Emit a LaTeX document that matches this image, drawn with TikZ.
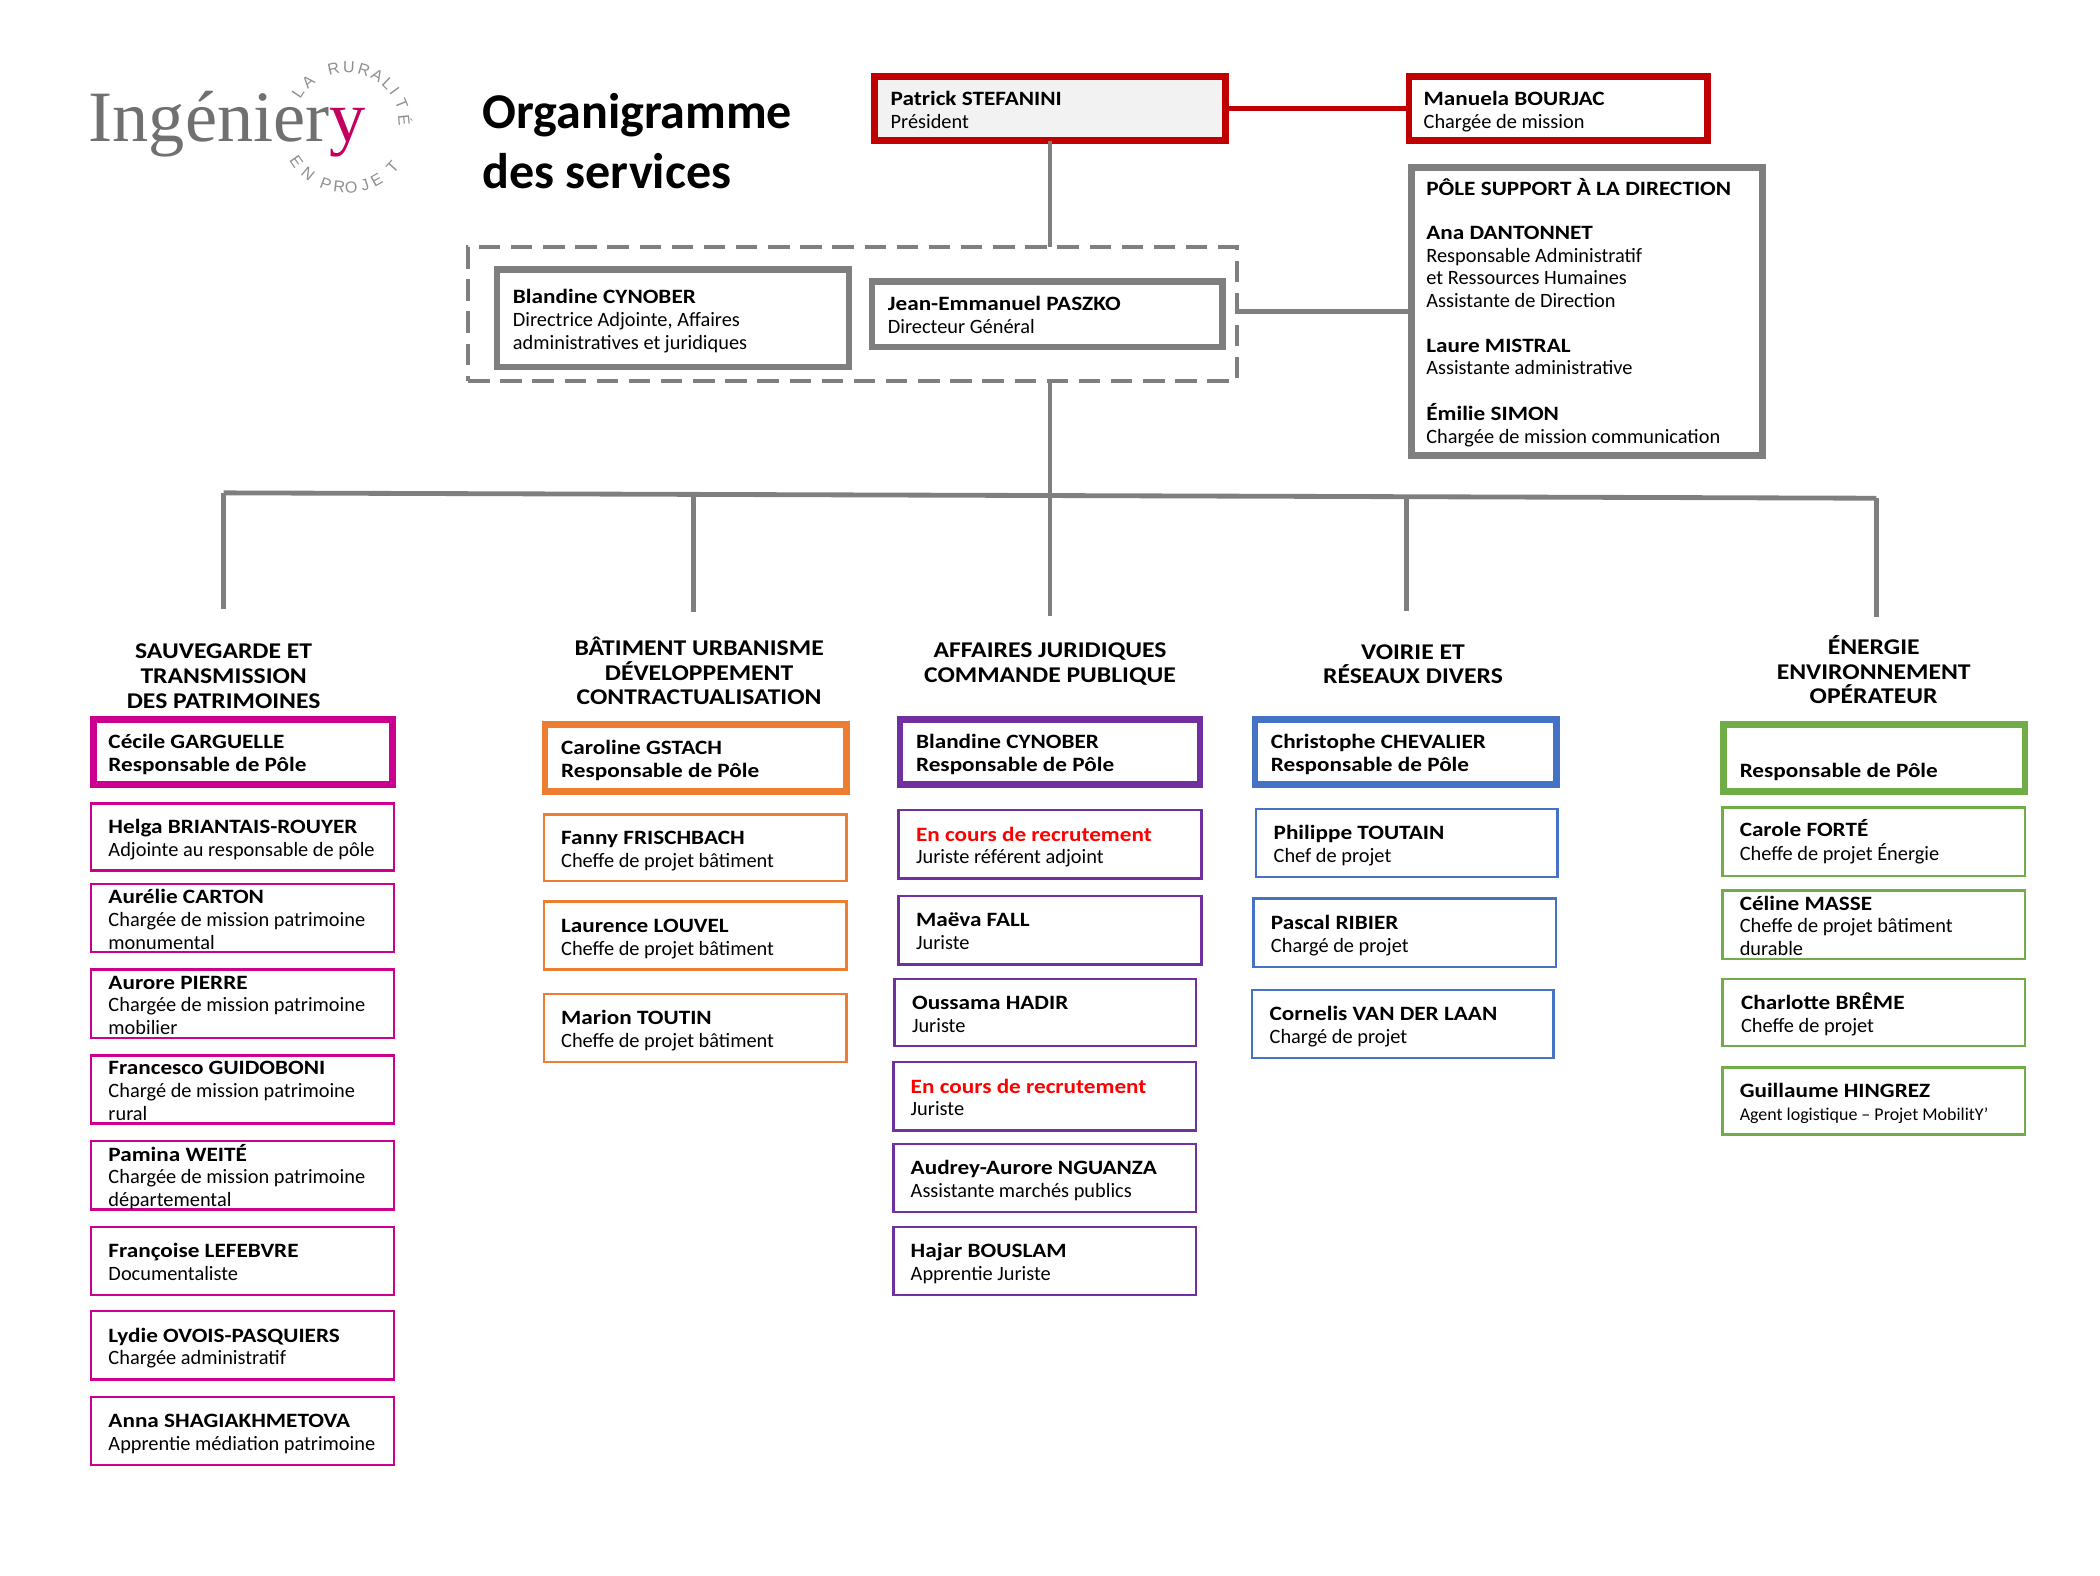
\documentclass[tikz,border=0pt]{standalone}
\usepackage{fontspec}
\setmainfont{Carlito}
\newfontfamily\nmfont[FakeStretch=1.14]{Carlito}
\newfontfamily\logoserif{Liberation Serif}
\newfontfamily\logosans{Liberation Sans}
\definecolor{cgray}{HTML}{7F7F7F}
\definecolor{cred}{HTML}{C00000}
\definecolor{cpink}{HTML}{CC008F}
\definecolor{corange}{HTML}{ED7D31}
\definecolor{cpurple}{HTML}{7030A0}
\definecolor{cblue}{HTML}{4472C4}
\definecolor{cgreen}{HTML}{70AD47}
\definecolor{clogo}{HTML}{707070}
\definecolor{clogoy}{HTML}{C4005E}
\definecolor{clogoc}{HTML}{8F8F8F}
\tikzset{
  base/.style={rectangle,outer sep=0pt,inner sep=0pt,font=\fontsize{15.2}{17}\selectfont},
  thickbox/.style={base,line width=5pt},
  thinbox/.style={base,line width=1.8pt},
  conn/.style={draw=cgray,line width=3.6pt},
  head/.style={align=flush center,font=\nmfont\fontsize{16.8}{18.5}\selectfont\bfseries,inner sep=0pt},
  ltr/.style={text=clogoc,font=\logosans\fontsize{12}{12}\selectfont,inner sep=0pt}
}
\newcommand{\pbdown}{6.3}
% name, x1, y1, x2, y2, style, text x inset, text
\newcommand{\pb}[8]{%
  \pgfmathsetmacro{\pbw}{#4-#2}\pgfmathsetmacro{\pbh}{#5-#3}%
  \pgfmathsetmacro{\pbc}{(#2+#4)/2}\pgfmathsetmacro{\pbm}{(#3+#5)/2}%
  \node[#6,minimum width=\pbw pt,minimum height=\pbh pt] (#1) at (\pbc,\pbm) {\makebox[\pbw pt][l]{\hspace*{#7pt}\raisebox{-\pbdown pt}[0pt][0pt]{\begin{tabular}[c]{@{}l@{}}#8\end{tabular}}}};}
\newcommand{\nm}[1]{{\nmfont\bfseries #1}}
\begin{document}
\begin{tikzpicture}[x=1pt,y=-1pt]
\useasboundingbox (0,0) rectangle (1568,1176);

% logo
\node[anchor=base west,inner sep=0pt,text=clogo,font=\logoserif\fontsize{54}{54}\selectfont] (logo) at (66,106) {Ingénier\textcolor{clogoy}{y}};
\foreach \c/\a in {L/146,A/131,R/103,U/88,R/73,A/59,L/46,I/36,T/22,É/6}
  \node[ltr,rotate=\a-90] at ({259+44*cos(\a)},{94-44*sin(\a)}) {\c};
\foreach \c/\a in {E/215,N/231,P/250,R/263,O/274,J/287,E/299,T/318}
  \node[ltr,rotate=\a+90] at ({259+46*cos(\a)},{94-46*sin(\a)}) {\c};

% title
\node[anchor=base west,inner sep=0pt,align=flush left,font=\fontsize{37.4}{44.5}\selectfont\bfseries] (title) at (360,140.5) {Organigramme\\des services};

% direction
\node[draw=cgray,line width=3.4pt,dash pattern=on 16pt off 8pt,minimum width=574pt,minimum height=100pt,outer sep=0pt] (dg) at (636.5,234.5) {};
\pb{pat}{653}{57}{915}{105}{thickbox,draw=cred,fill=black!5}{12}{\nm{Patrick STEFANINI}\\Président}
\pb{man}{1052}{57}{1275}{105}{thickbox,draw=cred}{11}{\nm{Manuela BOURJAC}\\Chargée de mission}
\pb{jea}{651}{210}{913}{259}{thickbox,draw=cgray}{12}{\nm{Jean-Emmanuel PASZKO}\\Directeur Général}
\renewcommand{\pbdown}{5.5}
\pb{sup}{1054}{125}{1316}{340}{thickbox,draw=cgray,font=\fontsize{15.2}{16.75}\selectfont}{11}{\nm{PÔLE SUPPORT À LA DIRECTION}\\~\\\nm{Ana DANTONNET}\\Responsable Administratif\\et Ressources Humaines\\Assistante de Direction\\~\\\nm{Laure MISTRAL}\\Assistante administrative\\~\\\nm{Émilie SIMON}\\Chargée de mission communication}
\renewcommand{\pbdown}{6.6}
\pb{bla}{371}{201}{634}{274}{thickbox,draw=cgray}{12}{\nm{Blandine CYNOBER}\\Directrice Adjointe, Affaires\\administratives et juridiques}
\renewcommand{\pbdown}{6.3}

% trunk
\coordinate (tl) at (167,368);
\coordinate (tr) at (1401,372);
\coordinate (t2) at (518,369);
\coordinate (t3) at (784,370);
\coordinate (t4) at (1050,371);
\coordinate (e1) at (167,455);
\coordinate (e2) at (518,457);
\coordinate (e3) at (784,460);
\coordinate (e4) at (1050,456);
\coordinate (e5) at (1401,461);
\draw[conn] (pat.south) -- (pat.south |- dg.north);
\draw[conn] (pat.south |- dg.south) -- (e3);
\draw[conn] (tl) -- (tr);
\draw[conn] (tl) -- (e1);
\draw[conn] (t2) -- (e2);
\draw[conn] (t4) -- (e4);
\draw[conn] (tr) -- (e5);
\draw[draw=cred,line width=3.6pt] (pat.east) -- (man.west);
\draw[conn] (sup.west -| dg.east) -- (sup.west);

% headings
\node[head] (h1) at (167,505) {SAUVEGARDE ET\\TRANSMISSION\\DES PATRIMOINES};
\node[head] (h2) at (522,501) {BÂTIMENT URBANISME\\DÉVELOPPEMENT\\CONTRACTUALISATION};
\node[head] (h3) at (784,496) {AFFAIRES JURIDIQUES\\COMMANDE PUBLIQUE};
\node[head] (h4) at (1055,496) {VOIRIE ET\\RÉSEAUX DIVERS};
\node[head] (h5) at (1399,500) {ÉNERGIE\\ENVIRONNEMENT\\OPÉRATEUR};

% pink
\pb{p0}{70}{537}{293}{586}{thickbox,draw=cpink}{11}{\nm{Cécile GARGUELLE}\\\nm{Responsable de Pôle}}
\pb{p1}{68}{600}{294}{650}{thinbox,draw=cpink}{13}{\nm{Helga BRIANTAIS-ROUYER}\\Adjointe au responsable de pôle}
\pb{p6}{68}{916}{294}{967}{thinbox,draw=cpink}{13}{\nm{Françoise LEFEBVRE}\\Documentaliste}
\pb{p7}{68}{979}{294}{1030}{thinbox,draw=cpink}{13}{\nm{Lydie OVOIS-PASQUIERS}\\Chargée administratif}
\pb{p8}{68}{1043}{294}{1094}{thinbox,draw=cpink}{13}{\nm{Anna SHAGIAKHMETOVA}\\Apprentie médiation patrimoine}
\pb{p2}{68}{660}{294}{711}{thinbox,draw=cpink}{13}{\nm{Aurélie CARTON}\\Chargée de mission patrimoine\\monumental}
\pb{p3}{68}{724}{294}{775}{thinbox,draw=cpink}{13}{\nm{Aurore PIERRE}\\Chargée de mission patrimoine\\mobilier}
\pb{p4}{68}{788}{294}{839}{thinbox,draw=cpink}{13}{\nm{Francesco GUIDOBONI}\\Chargé de mission patrimoine\\rural}
\pb{p5}{68}{852}{294}{903}{thinbox,draw=cpink}{13}{\nm{Pamina WEITÉ}\\Chargée de mission patrimoine\\départemental}
\pb{g2}{1286}{665}{1512}{716}{thinbox,draw=cgreen}{13}{\nm{Céline MASSE}\\Cheffe de projet bâtiment\\durable}

% orange
\pb{o0}{407}{541}{632}{591}{thickbox,draw=corange}{12}{\nm{Caroline GSTACH}\\\nm{Responsable de Pôle}}
\pb{o1}{406}{608}{632}{658}{thinbox,draw=corange}{13}{\nm{Fanny FRISCHBACH}\\Cheffe de projet bâtiment}
\pb{o2}{406}{673}{632}{724}{thinbox,draw=corange}{13}{\nm{Laurence LOUVEL}\\Cheffe de projet bâtiment}
\pb{o3}{406}{742}{632}{793}{thinbox,draw=corange}{13}{\nm{Marion TOUTIN}\\Cheffe de projet bâtiment}

% purple
\pb{v0}{672}{537}{896}{586}{thickbox,draw=cpurple}{12}{\nm{Blandine CYNOBER}\\\nm{Responsable de Pôle}}
\pb{v1}{671}{605}{897}{656}{thinbox,draw=cpurple}{13}{\textcolor{red}{\nm{En cours de recrutement}}\\Juriste référent adjoint}
\pb{v2}{671}{669}{897}{720}{thinbox,draw=cpurple}{13}{\nm{Maëva FALL}\\Juriste}
\pb{v3}{668}{731}{893}{781}{thinbox,draw=cpurple}{13}{\nm{Oussama HADIR}\\Juriste}
\pb{v4}{667}{793}{893}{844}{thinbox,draw=cpurple}{13}{\textcolor{red}{\nm{En cours de recrutement}}\\Juriste}
\pb{v5}{667}{854}{893}{905}{thinbox,draw=cpurple}{13}{\nm{Audrey-Aurore NGUANZA}\\Assistante marchés publics}
\pb{v6}{667}{916}{893}{967}{thinbox,draw=cpurple}{13}{\nm{Hajar BOUSLAM}\\Apprentie Juriste}

% blue
\pb{b0}{937}{537}{1162}{586}{thickbox,draw=cblue}{12}{\nm{Christophe CHEVALIER}\\\nm{Responsable de Pôle}}
\pb{b1}{938}{604}{1163}{655}{thinbox,draw=cblue}{13}{\nm{Philippe TOUTAIN}\\Chef de projet}
\pb{b2}{936}{671}{1162}{722}{thinbox,draw=cblue}{13}{\nm{Pascal RIBIER}\\Chargé de projet}
\pb{b3}{935}{739}{1160}{790}{thinbox,draw=cblue}{13}{\nm{Cornelis VAN DER LAAN}\\Chargé de projet}

% green
\pb{g0}{1287}{541}{1512}{591}{thickbox,draw=cgreen}{12}{~\\\nm{Responsable de Pôle}}
\renewcommand{\pbdown}{4.6}
\pb{g1}{1286}{603}{1512}{654}{thinbox,draw=cgreen}{13}{\nm{Carole FORTÉ}\\Cheffe de projet Énergie}
\renewcommand{\pbdown}{6.3}
\pb{g3}{1286}{731}{1512}{781}{thinbox,draw=cgreen}{14}{\nm{Charlotte BRÊME}\\Cheffe de projet}
\pb{g4}{1286}{797}{1512}{847}{thinbox,draw=cgreen}{13}{\nm{Guillaume HINGREZ}\\{\fontsize{13.4}{17}\selectfont Agent logistique -- Projet MobilitY’}}
\end{tikzpicture}
\end{document}
